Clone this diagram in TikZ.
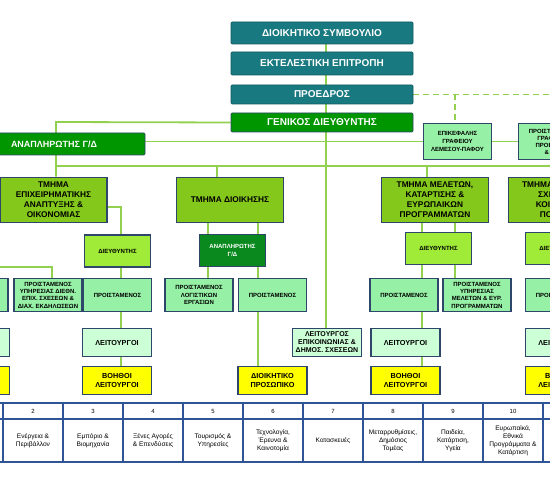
\documentclass[tikz,border=0pt]{standalone}
\usepackage{fontspec}
\setmainfont{Liberation Sans}
\usetikzlibrary{backgrounds}
\definecolor{tealc}{RGB}{24,121,128}
\definecolor{gdgreen}{RGB}{0,150,0}
\definecolor{a2green}{RGB}{10,138,30}
\definecolor{deptc}{RGB}{132,200,28}
\definecolor{dirc}{RGB}{160,235,55}
\definecolor{headc}{RGB}{150,240,165}
\definecolor{staffc}{RGB}{205,255,215}
\definecolor{yellowc}{RGB}{255,255,0}
\definecolor{borderc}{RGB}{45,70,105}
\definecolor{linec}{RGB}{146,208,80}
\definecolor{tabc}{RGB}{47,85,151}
\tikzset{
  every node/.style={inner sep=1pt, align=center},
  topbox/.style={draw=tealc!75!black, line width=0.6pt, fill=tealc, text=white,
    font=\bfseries\fontsize{10}{12}\selectfont, minimum width=182pt, minimum height=20pt, rounded corners=1pt},
  gdbox/.style={topbox, fill=gdgreen, draw=borderc},
  orgbox/.style={draw=borderc, line width=1.5pt, font=\bfseries\fontsize{6}{7.3}\selectfont},
  deptbox/.style={orgbox, fill=deptc, minimum width=107pt, minimum height=45pt, font=\bfseries\fontsize{8.3}{10}\selectfont},
  dirbox/.style={orgbox, fill=dirc, minimum width=66pt, minimum height=32pt},
  headbox/.style={orgbox, fill=headc, minimum width=68pt, minimum height=33pt},
  staffbox/.style={orgbox, fill=staffc, minimum width=69pt, minimum height=28pt, font=\bfseries\fontsize{7.3}{8.5}\selectfont},
  asstbox/.style={staffbox, fill=yellowc},
  conn/.style={draw=linec, line width=1.8pt},
  dconn/.style={conn, dash pattern=on 6pt off 4pt},
  cellbox/.style={draw=tabc, line width=1.5pt, fill=white, minimum width=60pt, font=\fontsize{6.6}{8}\selectfont},
}
\begin{document}
\begin{tikzpicture}[x=1pt,y=-1pt]
\useasboundingbox (0,0) rectangle (550,500);

% top chain
\node[topbox, minimum height=22pt] (ds) at (322,33) {ΔΙΟΙΚΗΤΙΚΟ ΣΥΜΒΟΥΛΙΟ};
\node[topbox, minimum height=23pt] (ee) at (322,63.5) {ΕΚΤΕΛΕΣΤΙΚΗ ΕΠΙΤΡΟΠΗ};
\node[topbox, minimum height=19pt] (pr) at (322,94.5) {ΠΡΟΕΔΡΟΣ};
\node[gdbox, minimum height=19pt] (gd) at (322,122.5) {ΓΕΝΙΚΟΣ ΔΙΕΥΘΥΝΤΗΣ};
\node[gdbox, minimum height=22pt, font=\bfseries\fontsize{9}{11}\selectfont] (ana) at (54,144) {ΑΝΑΠΛΗΡΩΤΗΣ Γ/Δ};

\node[headbox, minimum height=36pt, font=\bfseries\fontsize{6}{8}\selectfont] (epik) at (457.5,141.5) {ΕΠΙΚΕΦΑΛΗΣ\\ΓΡΑΦΕΙΟΥ\\ΛΕΜΕΣΟΥ-ΠΑΦΟΥ};
\node[headbox, minimum height=36pt, font=\bfseries\fontsize{6}{7}\selectfont] (proist) at (552.5,141.5) {ΠΡΟΙΣΤΑΜΕΝΟΣ\\ΓΡΑΦΕΙΟΥ\\ΠΡΟΕΔΡΟΥ\\\& Γ/Δ};

% departments
\node[deptbox] (t1) at (53.5,200) {ΤΜΗΜΑ\\ΕΠΙΧΕΙΡΗΜΑΤΙΚΗΣ\\ΑΝΑΠΤΥΞΗΣ \&\\ΟΙΚΟΝΟΜΙΑΣ};
\node[deptbox] (t2) at (230,200) {ΤΜΗΜΑ ΔΙΟΙΚΗΣΗΣ};
\node[deptbox] (t3) at (435,200) {ΤΜΗΜΑ ΜΕΛΕΤΩΝ,\\ΚΑΤΑΡΤΙΣΗΣ \&\\ΕΥΡΩΠΑΙΚΩΝ\\ΠΡΟΓΡΑΜΜΑΤΩΝ};
\node[deptbox] (t4) at (562,200) {ΤΜΗΜΑ ΕΡΓΑΤΙΚΩΝ\\ΣΧΕΣΕΩΝ \&\\ΚΟΙΝΩΝΙΚΗΣ\\ΠΟΛΙΤΙΚΗΣ};

% directors
\node[dirbox] (d1) at (117.5,251) {ΔΙΕΥΘΥΝΤΗΣ};
\node[dirbox, fill=a2green, text=white] (a2) at (232.5,250.5) {ΑΝΑΠΛΗΡΩΤΗΣ\\Γ/Δ};
\node[dirbox] (d3) at (438.5,248.5) {ΔΙΕΥΘΥΝΤΗΣ};
\node[dirbox] (d4) at (558.5,248.5) {ΔΙΕΥΘΥΝΤΗΣ};

% heads
\node[headbox] (pL) at (-26,295) {};
\node[headbox] (p1a) at (48,295) {ΠΡΟΙΣΤΑΜΕΝΟΣ\\ΥΠΗΡΕΣΙΑΣ ΔΙΕΘΝ.\\ΕΠΙΧ. ΣΧΕΣΕΩΝ \&\\ΔΙΑΧ. ΕΚΔΗΛΩΣΕΩΝ};
\node[headbox] (p1b) at (117.5,295) {ΠΡΟΙΣΤΑΜΕΝΟΣ};
\node[headbox, font=\bfseries\fontsize{6}{7.8}\selectfont] (p2a) at (199,295) {ΠΡΟΙΣΤΑΜΕΝΟΣ\\ΛΟΓΙΣΤΙΚΩΝ\\ΕΡΓΑΣΙΩΝ};
\node[headbox] (p2b) at (272.5,295) {ΠΡΟΙΣΤΑΜΕΝΟΣ};
\node[headbox] (p3a) at (404,295) {ΠΡΟΙΣΤΑΜΕΝΟΣ};
\node[headbox] (p3b) at (477,295) {ΠΡΟΙΣΤΑΜΕΝΟΣ\\ΥΠΗΡΕΣΙΑΣ\\ΜΕΛΕΤΩΝ \& ΕΥΡ.\\ΠΡΟΓΡΑΜΜΑΤΩΝ};
\node[headbox] (p4) at (559.5,295) {ΠΡΟΙΣΤΑΜΕΝΟΣ};

% staff
\node[staffbox] (lL) at (-25,342.5) {};
\node[staffbox] (l1) at (117,342.5) {ΛΕΙΤΟΥΡΓΟΙ};
\node[staffbox, font=\bfseries\fontsize{7}{8}\selectfont] (lep) at (327,342.5) {ΛΕΙΤΟΥΡΓΟΣ\\ΕΠΙΚΟΙΝΩΝΙΑΣ \&\\ΔΗΜΟΣ. ΣΧΕΣΕΩΝ};
\node[staffbox] (l3) at (405.5,342.5) {ΛΕΙΤΟΥΡΓΟΙ};
\node[staffbox] (l4) at (560,342.5) {ΛΕΙΤΟΥΡΓΟΙ};

% assistants
\node[asstbox] (bL) at (-25,380.5) {};
\node[asstbox] (b1) at (117,380.5) {ΒΟΗΘΟΙ\\ΛΕΙΤΟΥΡΓΟΙ};
\node[asstbox] (dp) at (272.5,380.5) {ΔΙΟΙΚΗΤΙΚΟ\\ΠΡΟΣΩΠΙΚΟ};
\node[asstbox] (b3) at (405.5,380.5) {ΒΟΗΘΟΙ\\ΛΕΙΤΟΥΡΓΟΙ};
\node[asstbox] (b4) at (560,380.5) {ΒΟΗΘΟΙ\\ΛΕΙΤΟΥΡΓΟΙ};

% table
\node[cellbox, minimum height=16pt] (h1) at (-27,411) {};
\node[cellbox, minimum height=43pt] (c1) at (-27,440.5) {};
\foreach \i/\txt in {2/{Ενέργεια \&\\Περιβάλλον},
                    3/{Εμπόριο \&\\Βιομηχανία},
                    4/{Ξένες Αγορές\\\& Επενδύσεις},
                    5/{Τουρισμός \&\\Υπηρεσίες},
                    6/{Τεχνολογία,\\Έρευνα \&\\Καινοτομία},
                    7/{Κατασκευές},
                    8/{Μεταρρυθμίσεις,\\Δημόσιος\\Τομέας},
                    9/{Παιδεία,\\Κατάρτιση,\\Υγεία},
                    10/{Ευρωπαϊκά,\\Εθνικά\\Προγράμματα \&\\Κατάρτιση}}{
  \node[cellbox, minimum height=16pt, font=\fontsize{6}{7}\selectfont] (h\i) at ({33+60*(\i-2)},411) {\i};
  \node[cellbox, minimum height=43pt] (c\i) at ({33+60*(\i-2)},440.5) {\txt};
}
\node[cellbox, minimum height=16pt] (h11) at (573,411) {};
\node[cellbox, minimum height=43pt] (c11) at (573,440.5) {};

% connectors
\begin{scope}[on background layer]
\coordinate (xv) at (326,0);
\draw[conn] (ds.south -| xv) -- (lep.north -| xv);
\coordinate (j1) at (56,122);
\coordinate (busR) at (600,166);
\draw[conn] (gd.west) -- (j1) -- (j1 |- t1.north);
\draw[conn] (j1 |- busR) -- (busR);
\coordinate (x217) at (217,0);
\draw[conn] (x217 |- busR) -- (x217 |- t2.north);
\coordinate (x427) at (427,0);
\draw[conn] (x427 |- busR) -- (x427 |- t3.north);
\draw[conn] (t4.north |- busR) -- (t4.north);
\draw[conn] (ana.east |- epik.west) -- (epik.west);
\draw[conn] (epik.east) -- (proist.west);
\coordinate (x455) at (455,0);
\draw[dconn] (pr.east) -- (pr.east -| busR);
\draw[dconn] (pr.east -| x455) -- (x455 |- epik.north);
\coordinate (j2) at (121,207);
\draw[conn] (t1.east |- j2) -- (j2) -- (j2 |- b1.north);
\coordinate (j3) at (-10,267);
\coordinate (j3b) at (52,267);
\draw[conn] (j3) -- (j3b) -- (j3b |- p1a.north);
\coordinate (x208) at (208,0);
\draw[conn] (x208 |- t2.south) -- (x208 |- p2a.north);
\coordinate (x258) at (258,0);
\draw[conn] (x258 |- t2.south) -- (x258 |- dp.north);
\coordinate (x422) at (422,0);
\draw[conn] (x422 |- t3.south) -- (x422 |- b3.north);
\draw[conn] (x455 |- t3.south) -- (x455 |- p3b.north);
\draw[conn] (t4.south) -- (b4.north);
\end{scope}
\end{tikzpicture}
\end{document}
